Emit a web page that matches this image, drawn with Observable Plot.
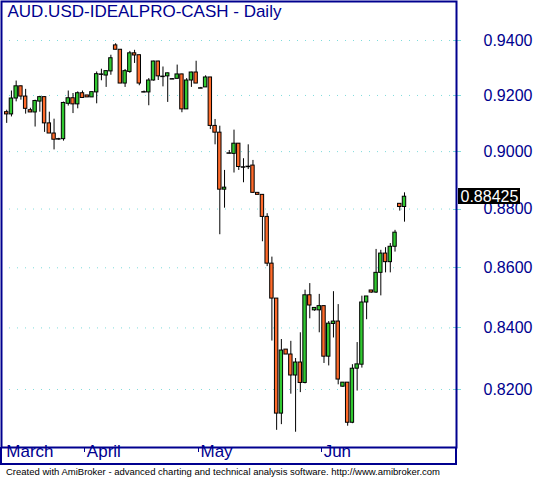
<!DOCTYPE html>
<html><head><meta charset="utf-8">
<script src="https://cdn.jsdelivr.net/npm/d3@7"></script>
<script src="https://cdn.jsdelivr.net/npm/@observablehq/plot@0.6"></script>
<style>
body{margin:0;background:#fff;}
#chart{width:533px;height:466px;}
.footer{font-family:"Liberation Sans",Arial,sans-serif;font-size:9.5px;color:#000;padding-left:6px;line-height:11px;height:11px;white-space:nowrap;}
</style></head><body>
<div id="chart"></div>
<div class="footer" id="footer"></div>
<script>
const title = "AUD.USD-IDEALPRO-CASH - Daily";
const footerText = "Created with AmiBroker - advanced charting and technical analysis software. http://www.amibroker.com";

const open  = [0.9140,0.9132,0.9189,0.9233,0.9196,0.9147,0.9139,0.9178,0.9194,0.9100,0.9064,0.9045,0.9044,0.9170,0.9190,0.9168,0.9208,0.9200,0.9193,0.9211,0.9277,0.9272,0.9287,0.9382,0.9366,0.9243,0.9285,0.9353,0.9346,0.9213,0.9211,0.9254,0.9323,0.9269,0.9269,0.9260,0.9260,0.9276,0.9150,0.9254,0.9283,0.9227,0.9229,0.9265,0.9091,0.9067,0.8867,0.8995,0.8992,0.9028,0.8946,0.8948,0.8951,0.8856,0.8849,0.8773,0.8614,0.8497,0.8123,0.8329,0.8313,0.8245,0.8287,0.8221,0.8508,0.8458,0.8458,0.8472,0.8306,0.8413,0.8421,0.8209,0.8222,0.8094,0.8267,0.8280,0.8484,0.8524,0.8517,0.8583,0.8648,0.8619,0.8671,0.8818,0.8807];
const high  = [0.9147,0.9216,0.9252,0.9234,0.9222,0.9154,0.9183,0.9197,0.9196,0.9140,0.9115,0.9047,0.9176,0.9216,0.9207,0.9213,0.9216,0.9200,0.9212,0.9285,0.9295,0.9288,0.9346,0.9388,0.9367,0.9294,0.9360,0.9364,0.9346,0.9216,0.9261,0.9324,0.9324,0.9303,0.9281,0.9261,0.9310,0.9277,0.9261,0.9284,0.9324,0.9229,0.9271,0.9265,0.9114,0.9090,0.8934,0.9004,0.9076,0.9028,0.8975,0.9024,0.8969,0.8856,0.8849,0.8784,0.8636,0.8497,0.8362,0.8329,0.8356,0.8300,0.8384,0.8525,0.8547,0.8466,0.8511,0.8472,0.8421,0.8520,0.8477,0.8222,0.8222,0.8280,0.8352,0.8505,0.8504,0.8524,0.8662,0.8659,0.8668,0.8682,0.8727,0.8818,0.8856];
const low   = [0.9100,0.9123,0.9177,0.9183,0.9133,0.9139,0.9087,0.9140,0.9068,0.9064,0.9006,0.9040,0.9037,0.9162,0.9135,0.9152,0.9190,0.9193,0.9193,0.9170,0.9253,0.9229,0.9273,0.9366,0.9243,0.9229,0.9280,0.9316,0.9235,0.9210,0.9163,0.9252,0.9254,0.9231,0.9175,0.9258,0.9260,0.9138,0.9150,0.9229,0.9243,0.9225,0.9229,0.9078,0.9024,0.8712,0.8803,0.8992,0.8925,0.8934,0.8891,0.8937,0.8854,0.8849,0.8688,0.8604,0.8357,0.8070,0.8088,0.8313,0.8185,0.8064,0.8190,0.8218,0.8430,0.8455,0.8384,0.8284,0.8276,0.8367,0.8215,0.8207,0.8083,0.8091,0.8195,0.8269,0.8427,0.8515,0.8514,0.8506,0.8583,0.8583,0.8653,0.8793,0.8755];
const close = [0.9132,0.9189,0.9233,0.9196,0.9152,0.9139,0.9180,0.9194,0.9100,0.9064,0.9042,0.9045,0.9173,0.9190,0.9168,0.9208,0.9191,0.9193,0.9212,0.9277,0.9277,0.9288,0.9335,0.9366,0.9243,0.9288,0.9353,0.9345,0.9243,0.9213,0.9254,0.9323,0.9269,0.9269,0.9280,0.9260,0.9276,0.9150,0.9254,0.9283,0.9243,0.9227,0.9265,0.9091,0.9067,0.8867,0.8874,0.8995,0.9028,0.8946,0.8946,0.8948,0.8856,0.8849,0.8773,0.8614,0.8497,0.8123,0.8326,0.8313,0.8245,0.8287,0.8221,0.8508,0.8474,0.8466,0.8472,0.8306,0.8414,0.8421,0.8232,0.8222,0.8094,0.8267,0.8281,0.8484,0.8504,0.8517,0.8583,0.8648,0.8619,0.8671,0.8719,0.8807,0.88425];

const monthNames = ["March","April","May","Jun"];
const monthFirstBar = [0,17,41,67];
const priceTicks = [0.82,0.84,0.86,0.88,0.90,0.92,0.94];

const NAVY = "#00008f";
const CYAN = "#7fdcdc";
const UP = "#30c830";
const DOWN = "#ff6a2a";

const bars = close.map((c,i)=>({i, open:open[i], high:high[i], low:low[i], close:c}));
const bodies = bars.filter(d => d.open !== d.close);
const dojis = bars.filter(d => d.open === d.close);
const last = bars[bars.length-1];

function axisBox(index, scales, values, dim) {
  const x = scales.x;
  const x0 = dim.marginLeft, x1 = dim.width - dim.marginRight, y0 = dim.height - dim.marginBottom;
  const yb = y0 + 17;
  const g = d3.create("svg:g").attr("fill","none").attr("stroke", NAVY);
  g.append("path").attr("stroke-width", 2).attr("d", `M${x0},${y0}V${yb}H${x1}V${y0}`);
  monthFirstBar.slice(1).forEach(b => {
    const px = Math.round(x(b - 0.5)) + 0.5;
    g.append("line").attr("x1", px).attr("x2", px).attr("y1", y0).attr("y2", y0 + 5).attr("stroke-width", 1);
  });
  return g.node();
}

function priceTickMarks(index, scales, values, dim) {
  const x0 = dim.width - dim.marginRight;
  const g = d3.create("svg:g").attr("stroke", CYAN).attr("stroke-width", 1);
  priceTicks.forEach(v => {
    const py = Math.round(scales.y(v)) + 0.5;
    g.append("line").attr("x1", x0 - 3).attr("x2", x0 + 5).attr("y1", py).attr("y2", py);
  });
  return g.node();
}

function lastBox(index, scales, values, dim) {
  const cy = scales.y(last.close);
  const x0 = dim.width - dim.marginRight + 2;
  return d3.create("svg:rect").attr("x", x0).attr("y", Math.round(cy) - 8).attr("width", 62).attr("height", 16).attr("fill", "black").node();
}

const chart = Plot.plot({
  width: 533,
  height: 466,
  marginLeft: 1,
  marginTop: 1,
  marginRight: 77,
  marginBottom: 19,
  style: {fontFamily: "'Liberation Sans', Arial, sans-serif", background: "white", color: NAVY},
  x: {domain: [0, bars.length - 1], range: [6.2, 404], axis: null},
  y: {type: "log", domain: [0.82, 0.94], range: [389, 40], axis: null},
  marks: [
    Plot.gridY(priceTicks, {stroke: CYAN, strokeOpacity: 1, strokeWidth: 1, strokeDasharray: "1,7"}),
    priceTickMarks,
    Plot.text(priceTicks, {y: d => d, text: d => d.toFixed(4), frameAnchor: "right", dx: 27, textAnchor: "start", fontSize: 16, fill: NAVY}),
    Plot.ruleX(bars, {x: "i", y1: "low", y2: "high", stroke: "black", strokeWidth: 1}),
    Plot.rect(bodies, {x1: d => d.i - 0.36, x2: d => d.i + 0.36, y1: "open", y2: "close",
      fill: d => d.close > d.open ? UP : DOWN, stroke: "black", strokeWidth: 1}),
    Plot.ruleY(dojis, {y: "close", x1: d => d.i - 0.48, x2: d => d.i + 0.48, stroke: "black", strokeWidth: 1.5}),
    Plot.frame({stroke: NAVY, strokeWidth: 2}),
    axisBox,
    Plot.text(monthNames, {x: (d, i) => monthFirstBar[i] - 0.5, text: d => d, frameAnchor: "bottom", dy: 9, dx: 2, textAnchor: "start", fontSize: 17, fill: NAVY}),
    Plot.text([title], {text: d => d, frameAnchor: "top-left", dx: 6, dy: 3, lineAnchor: "top", fontSize: 17, fill: NAVY}),
    lastBox,
    Plot.text([last], {y: "close", text: d => d.close.toFixed(5), frameAnchor: "right", dx: 4, textAnchor: "start", fontSize: 16, fill: "white"})
  ]
});
document.getElementById("chart").appendChild(chart);
document.getElementById("footer").textContent = footerText;
</script>
</body></html>
